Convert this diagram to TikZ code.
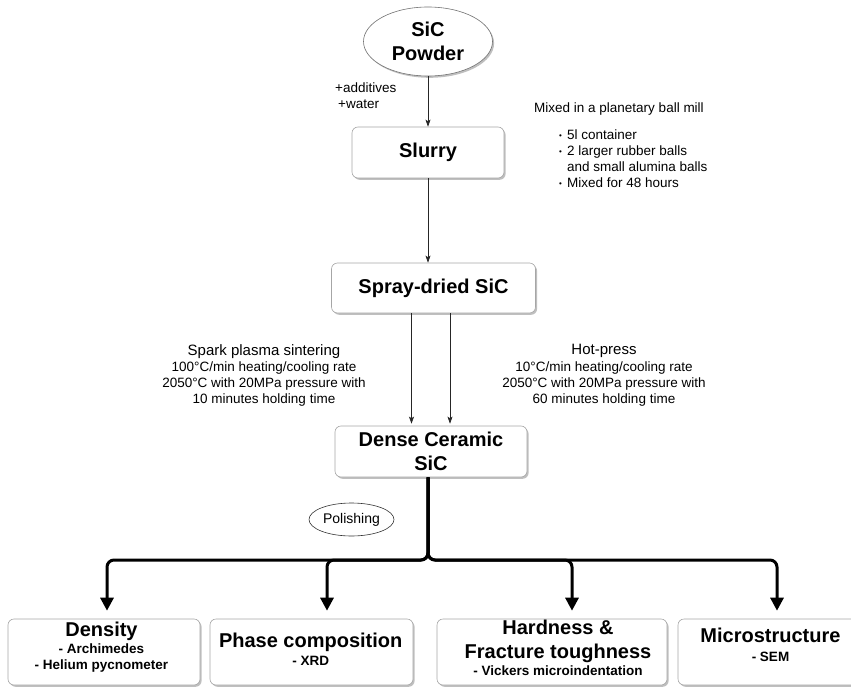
\documentclass[tikz,border=0pt]{standalone}
\usepackage{fontspec}
\setmainfont{Liberation Sans}
\usetikzlibrary{shapes.geometric,arrows.meta,shadows}
\newcommand{\mybullet}{\raisebox{1.6pt}{\fontsize{8pt}{8pt}\selectfont •}}
\begin{document}
\begin{tikzpicture}[x=1pt,y=-1pt,
  boxshadow/.style={drop shadow={shadow xshift=1.6pt,shadow yshift=-1.8pt,fill=black!50,opacity=0.5}},
  box/.style={draw=black!35, line width=0.6pt, rounded corners=6pt, fill=white, inner sep=0pt, boxshadow},
  boxtitle/.style={font=\bfseries\fontsize{20pt}{24pt}\selectfont, align=center},
  lbltext/.style={font=\fontsize{13.5pt}{16pt}\selectfont, align=center, inner sep=0pt},
  subtext/.style={font=\bfseries\fontsize{13.5pt}{16pt}\selectfont, align=center, inner sep=0pt},
  thinarrow/.style={draw=black!85, line width=0.7pt, -{Stealth[length=7pt,width=5pt,inset=1.5pt]}},
  thickarrow/.style={draw=black, line width=3pt, rounded corners=7pt, shorten >=8pt, -{Triangle[length=13pt,width=13pt]}}
]
\useasboundingbox (0,0) rectangle (851,687);
\clip (0,0) rectangle (851,687);

% main flow
\node[ellipse, draw=black!55, line width=0.6pt, fill=white, boxshadow, minimum width=129pt, minimum height=69pt, inner sep=0pt, boxtitle] (powder) at (428,41.5) {SiC\\Powder};
\node[box, boxtitle, minimum width=152pt, minimum height=51pt] (slurry) at (428,152.5) {Slurry};
\node[box, boxtitle, minimum width=204pt, minimum height=50pt] (spray) at (433.5,288) {Spray-dried SiC};
\node[box, boxtitle, minimum width=192pt, minimum height=51pt] (dense) at (431,451.5) {Dense Ceramic\\SiC};
\node[ellipse, draw=black!80, line width=0.6pt, fill=white, minimum width=85pt, minimum height=33pt, inner sep=0pt, font=\fontsize{14pt}{16pt}\selectfont] (polish) at (351.5,519.5) {Polishing};

% bottom boxes
\node[box, minimum width=192pt, minimum height=66pt] (density) at (104,652) {};
\node[box, minimum width=203pt, minimum height=66pt] (phase) at (311.5,652) {};
\node[box, minimum width=230pt, minimum height=66pt] (hard) at (552,652) {};
\node[box, minimum width=180pt, minimum height=66pt] (micro) at (768,652) {};

\node[subtext] (density-t) at (101.5,646.7) {{\fontsize{20pt}{24pt}\selectfont Density}\\[1pt]- Archimedes\\- Helium pycnometer};
\node[subtext] (phase-t) at (310.7,649) {{\fontsize{20pt}{24pt}\selectfont Phase composition}\\[2pt]- XRD};
\node[subtext] (hard-t) at (558,648.3) {{\fontsize{20pt}{24pt}\selectfont Hardness \&}\\[8pt]{\fontsize{20pt}{24pt}\selectfont Fracture toughness}\\[1pt]- Vickers microindentation};
\node[subtext] (micro-t) at (770.5,645.3) {{\fontsize{20pt}{24pt}\selectfont Microstructure}\\[3pt]- SEM};

% labels
\node[lbltext, align=left, anchor=west] (additives) at (335,96) {+additives\\\hspace*{3pt}+water};
\node[lbltext, anchor=west] (mill) at (534,147.3) {\begin{tabular}{@{}p{25pt}@{}l@{\hspace{5pt}}l@{}}
\multicolumn{3}{@{}l@{}}{Mixed in a planetary ball mill}\\[11pt]
 & \mybullet & 5l container\\
 & \mybullet & 2 larger rubber balls\\
 & & and small alumina balls\\
 & \mybullet & Mixed for 48 hours
\end{tabular}};
\node[lbltext] (spark) at (264,375.3) {{\fontsize{15pt}{16pt}\selectfont Spark plasma sintering}\\[0.5pt]100°C/min heating/cooling rate\\2050°C with 20MPa pressure with\\10 minutes holding time};
\node[lbltext] (hot) at (604,375.3) {{\fontsize{15pt}{16pt}\selectfont Hot-press}\\[0.5pt]10°C/min heating/cooling rate\\2050°C with 20MPa pressure with\\60 minutes holding time};

% thin connectors
\draw[thinarrow] (powder.south) -- (slurry.north);
\draw[thinarrow] (slurry.south) -- (slurry.south |- spray.north);
\draw[thinarrow, shorten >=2pt] ([xshift=-22pt]spray.south) -- ([xshift=-22pt]spray.south |- dense.north);
\draw[thinarrow, shorten >=2pt] ([xshift=16.5pt]spray.south) -- ([xshift=16.5pt]spray.south |- dense.north);

% thick tree
\coordinate (hub) at (428,560);
\draw[thickarrow] (dense.south -| hub) -- (hub) -| ([xshift=3pt]density.north);
\draw[thickarrow] (dense.south -| hub) -- (hub) -| ([xshift=15.5pt]phase.north);
\draw[thickarrow] (dense.south -| hub) -- (hub) -| ([xshift=20pt]hard.north);
\draw[thickarrow] (dense.south -| hub) -- (hub) -| ([xshift=9pt]micro.north);
\end{tikzpicture}
\end{document}
